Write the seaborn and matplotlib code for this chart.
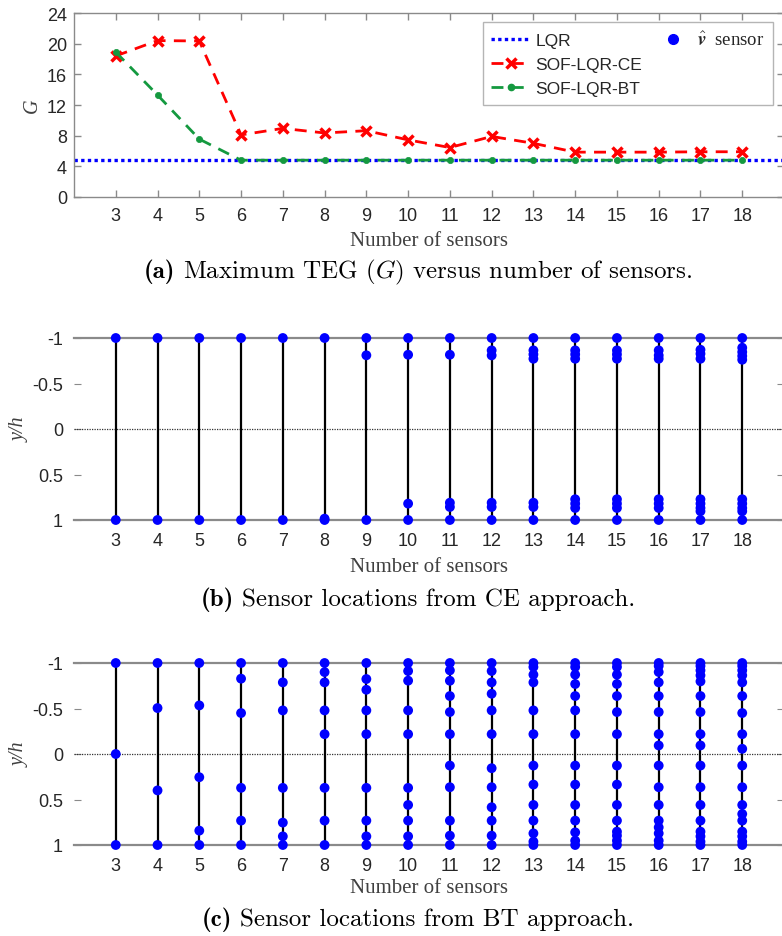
import numpy as np
import pandas as pd
import matplotlib
matplotlib.use("Agg")
import matplotlib.pyplot as plt
import seaborn as sns
from matplotlib.lines import Line2D
from matplotlib.legend_handler import HandlerLine2D

# ---------------- data ----------------
sensors = list(range(3, 19))
g_ce = [18.4, 20.4, 20.35, 8.1, 8.95, 8.35, 8.65, 7.45, 6.45, 7.9, 7.0, 5.85, 5.85, 5.85, 5.9, 5.9]
g_bt = [18.9, 13.3, 7.55, 4.8, 4.8, 4.8, 4.8, 4.8, 4.8, 4.8, 4.8, 4.8, 4.8, 4.8, 4.8, 4.8]
g_lqr = 4.8

ce_locations = [
    [-1, 1],
    [-1, 1],
    [-1, 1],
    [-1, 1],
    [-1, 1],
    [-1, 0.985, 1],
    [-1, -0.81, 1],
    [-1, -0.816, 0.82, 1],
    [-1, -0.816, 0.81, 0.857, 1],
    [-1, -0.864, -0.809, 0.81, 0.857, 1],
    [-1, -0.864, -0.82, -0.772, 0.81, 0.857, 1],
    [-1, -0.864, -0.82, -0.772, 0.772, 0.82, 0.868, 1],
    [-1, -0.864, -0.82, -0.772, 0.772, 0.82, 0.868, 1],
    [-1, -0.864, -0.809, -0.772, 0.772, 0.82, 0.868, 1],
    [-1, -0.871, -0.827, -0.772, 0.772, 0.82, 0.868, 0.904, 1],
    [-1, -0.893, -0.846, -0.802, -0.761, 0.772, 0.82, 0.868, 0.904, 1],
]

bt_locations = [
    [-1, 0, 1],
    [-1, -0.505, 0.40, 1],
    [-1, -0.534, 0.255, 0.842, 1],
    [-1, -0.828, -0.45, 0.372, 0.732, 1],
    [-1, -0.787, -0.479, 0.372, 0.754, 0.905, 1],
    [-1, -0.90, -0.787, -0.479, -0.218, 0.372, 0.732, 1],
    [-1, -0.824, -0.706, -0.479, -0.218, 0.372, 0.732, 0.905, 1],
    [-1, -0.912, -0.806, -0.479, -0.218, 0.372, 0.56, 0.732, 0.905, 1],
    [-1, -0.919, -0.805, -0.637, -0.461, -0.218, 0.127, 0.365, 0.732, 0.897, 1],
    [-1, -0.912, -0.787, -0.662, -0.479, -0.218, 0.156, 0.365, 0.585, 0.732, 0.897, 1],
    [-1, -0.956, -0.872, -0.787, -0.479, -0.218, 0.127, 0.336, 0.56, 0.732, 0.872, 0.963, 1],
    [-1, -0.956, -0.872, -0.769, -0.637, -0.479, -0.218, 0.127, 0.336, 0.56, 0.732, 0.861, 0.952, 1],
    [-1, -0.956, -0.872, -0.769, -0.637, -0.461, -0.218, 0.127, 0.336, 0.56, 0.732, 0.853, 0.897, 0.952, 1],
    [-1, -0.967, -0.901, -0.787, -0.637, -0.461, -0.218, -0.094, 0.127, 0.365, 0.56, 0.732, 0.806, 0.872, 0.952, 1],
    [-1, -0.967, -0.919, -0.864, -0.798, -0.637, -0.461, -0.218, -0.094, 0.127, 0.365, 0.56, 0.732, 0.853, 0.905, 0.963, 1],
    [-1, -0.967, -0.919, -0.864, -0.787, -0.637, -0.45, -0.218, -0.057, 0.127, 0.365, 0.56, 0.659, 0.732, 0.853, 0.905, 0.963, 1],
]

g_ticks = [0, 4, 8, 12, 16, 20, 24]
yh_ticks = [-1, -0.5, 0, 0.5, 1]
yh_ticklabels = ["-1", "-0.5", "0", "0.5", "1"]

legend_labels = ["LQR", "SOF-LQR-CE", "SOF-LQR-BT", r"$\hat{\boldsymbol{v}}$  sensor"]
caption_tags = ["(a)", "(b)", "(c)"]
caption_texts = [
    r"Maximum TEG ($G$) versus number of sensors.",
    "Sensor locations from CE approach.",
    "Sensor locations from BT approach.",
]

# ---------------- style ----------------
sns.set_style("ticks")
plt.rcParams.update({
    "font.family": ["Liberation Sans", "DejaVu Sans"],
    "mathtext.fontset": "cm",
    "axes.unicode_minus": False,
})

TICKC = "#262626"
SPINEC = "#8a8a8a"
LABC = "#404040"
SERIF = ["Liberation Serif", "DejaVu Serif"]
GREEN = "#14993f"

W, H = 782, 937
fig = plt.figure(figsize=(W / 100, H / 100), dpi=100)

def ax_rect(x0, x1, ytop, ybot):
    return [x0 / W, 1 - ybot / H, (x1 - x0) / W, (ybot - ytop) / H]

XR = 784
axA = fig.add_axes(ax_rect(74, XR, 14, 198))
axB = fig.add_axes(ax_rect(74, XR, 339, 521))
axC = fig.add_axes(ax_rect(74, XR, 664, 846))

# ---------------- panel (a) ----------------
axA.axhline(g_lqr, color="blue", ls=(0, (1, 1)), lw=2.4, zorder=2)
sns.lineplot(x=sensors, y=g_ce, ax=axA, color="red", ls=(0, (4.3, 3)), lw=2,
             marker="x", ms=7.5, mew=2.5, mec="red", zorder=3)
sns.lineplot(x=sensors, y=g_bt, ax=axA, color=GREEN, ls=(0, (4.3, 3)), lw=2,
             marker="o", ms=4.5, mec=GREEN, mew=0.5, zorder=3)
axA.set_xlim(2, 19)
axA.set_ylim(0, 24)
axA.set_xticks(sensors)
axA.set_yticks(g_ticks)
axA.tick_params(direction="in", length=5, width=1, color=SPINEC, labelcolor=TICKC,
                labelsize=13, top=True, right=True)
axA.tick_params(axis="x", pad=7)
axA.tick_params(axis="y", pad=5)
for s in axA.spines.values():
    s.set_color(SPINEC)
    s.set_linewidth(1)
axA.set_xlabel("Number of sensors", fontfamily=SERIF, fontsize=15, color=LABC)
axA.xaxis.set_label_coords(0.5, (198 - 241) / 184)
axA.xaxis.label.set_va("center")
axA.set_ylabel("G", fontfamily=SERIF, fontstyle="italic", fontsize=14.5, color=LABC)
axA.yaxis.set_label_coords((32 - 74) / (XR - 74), 0.5)
axA.yaxis.label.set_va("center")


class RightDotHandler(HandlerLine2D):
    def get_xdata(self, legend, xdescent, ydescent, width, height, fontsize):
        xd = np.array([-xdescent, -xdescent + width])
        return xd, np.array([-xdescent + 0.8 * width])


h_lqr = Line2D([], [], color="blue", ls=(0, (1, 1)), lw=2.4)
h_ce = Line2D([], [], color="red", ls=(0, (4.3, 3)), lw=2, marker="x", ms=7.5, mew=2.5)
h_bt = Line2D([], [], color=GREEN, ls=(0, (4.3, 3)), lw=2, marker="o", ms=4.5)
h_dot = Line2D([], [], color="blue", ls="none", marker="o", ms=7)
h_blank = Line2D([], [], color="none", ls="none")
leg = axA.legend([h_lqr, h_ce, h_bt, h_dot, h_blank, h_blank],
                 legend_labels + ["", ""], ncol=2, loc="upper right",
                 bbox_to_anchor=(773 / W, 1 - 23 / H), bbox_transform=fig.transFigure,
                 borderaxespad=0, fontsize=12.5, handlelength=2.3, handletextpad=0.25,
                 columnspacing=0.6, labelspacing=0.5, borderpad=0.5,
                 frameon=True, fancybox=False, framealpha=1, edgecolor="#b5b5b5",
                 handler_map={h_dot: RightDotHandler(numpoints=1)})
leg.get_frame().set_linewidth(1)
leg.get_texts()[3].set_fontfamily(SERIF)
leg.get_texts()[3].set_fontsize(13.5)

# ---------------- panels (b), (c) ----------------
for ax, locs, xlab_off in [(axB, ce_locations, 46), (axC, bt_locations, 43)]:
    df = pd.DataFrame({
        "n": [n for n, l in zip(sensors, locs) for _ in l],
        "y": [v for l in locs for v in l],
    })
    ax.axhline(0, color="#333333", ls=(0, (1, 1)), lw=0.9, zorder=1)
    ax.vlines(sensors, -1, 1, color="black", lw=1.6, zorder=2)
    sns.scatterplot(data=df, x="n", y="y", ax=ax, color="blue", s=50,
                    edgecolor="none", linewidth=0, zorder=3, clip_on=False, legend=False)
    ax.set_xlim(2, 19)
    ax.set_ylim(1, -1)
    ax.set_xticks(sensors)
    ax.set_yticks(yh_ticks)
    ax.set_yticklabels(yh_ticklabels)
    ax.tick_params(axis="x", length=0, pad=9, labelsize=13, labelcolor=TICKC)
    ax.tick_params(axis="y", direction="in", length=5, color=SPINEC, pad=8,
                   labelsize=13, labelcolor=TICKC, right=True)
    ax.spines["left"].set_visible(False)
    ax.spines["right"].set_visible(False)
    for side in ("top", "bottom"):
        ax.spines[side].set_color(SPINEC)
        ax.spines[side].set_linewidth(1.6)
        ax.spines[side].set_zorder(1.5)
    ax.set_xlabel("Number of sensors", fontfamily=SERIF, fontsize=15, color=LABC)
    ax.xaxis.set_label_coords(0.5, -xlab_off / 182)
    ax.xaxis.label.set_va("center")
    ax.set_ylabel("y/h", fontfamily=SERIF, fontstyle="italic", fontsize=14.5, color=LABC)
    ax.yaxis.set_label_coords((20 - 74) / (XR - 74), 0.5)
    ax.yaxis.label.set_va("center")

# ---------------- captions ----------------
try:
    fig.canvas.draw()
except Exception:
    leg.get_texts()[3].set_text(r"$\hat{\mathbf{v}}$  sensor")
    fig.canvas.draw()

renderer = fig.canvas.get_renderer()
CAP_FS = 18
for tag, txt, yc in zip(caption_tags, caption_texts, [272, 600, 920]):
    yb = 1 - (yc + 6) / H
    t1 = fig.text(0, yb, tag, family="cmb10", fontsize=CAP_FS, va="baseline", color="black")
    t2 = fig.text(0, yb, txt, family="cmr10", fontsize=CAP_FS, va="baseline", color="black")
    w1 = t1.get_window_extent(renderer).width
    w2 = t2.get_window_extent(renderer).width
    gap = 0.33 * CAP_FS * 100 / 72
    x0 = 418 - (w1 + gap + w2) / 2
    t1.set_x(x0 / W)
    t2.set_x((x0 + w1 + gap) / W)

fig.savefig("out.png", dpi=100)
